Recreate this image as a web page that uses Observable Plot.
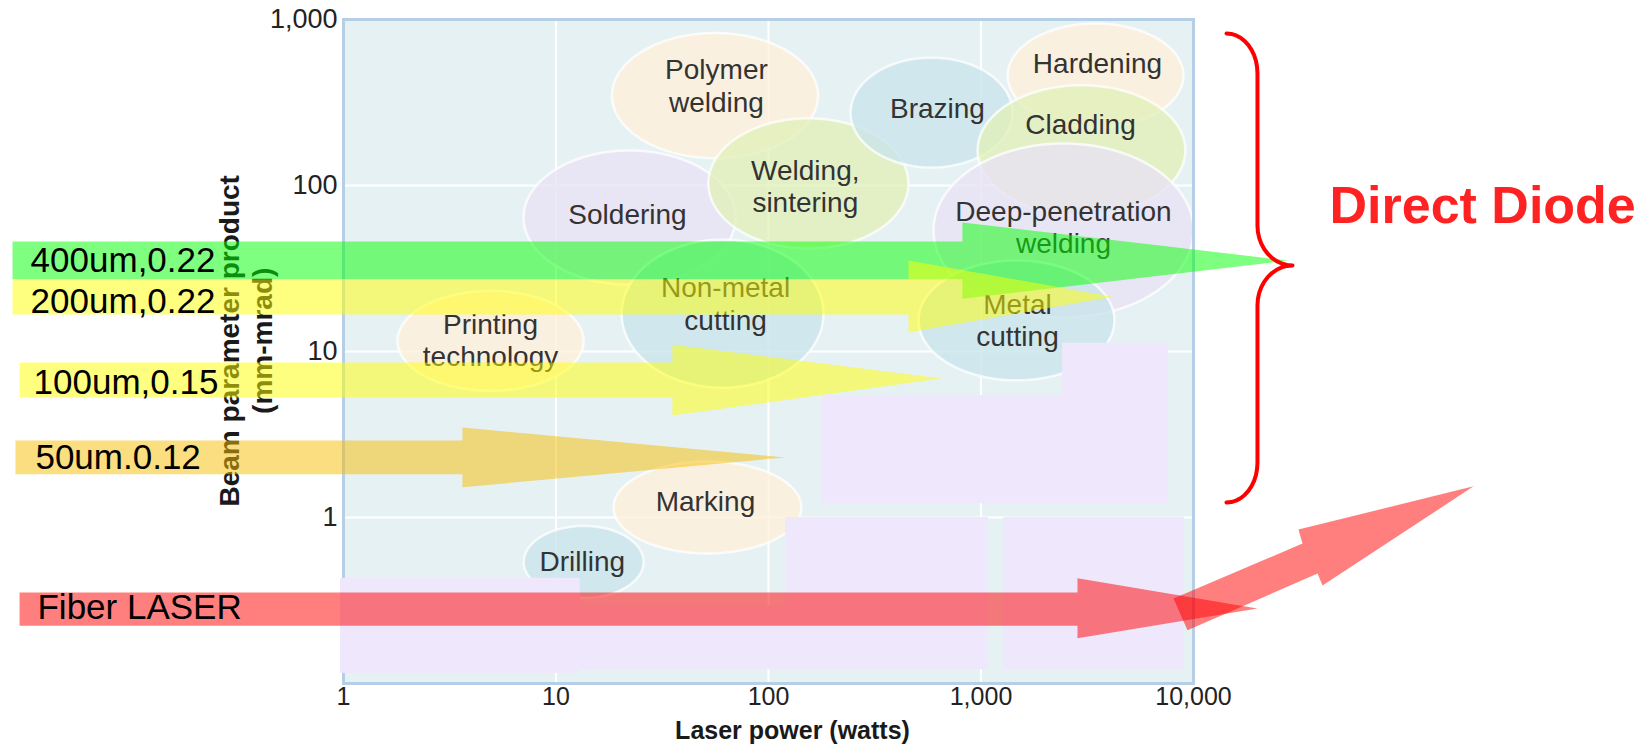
<!DOCTYPE html>
<html>
<head>
<meta charset="utf-8">
<script src="https://cdn.jsdelivr.net/npm/d3@7"></script>
<script src="https://cdn.jsdelivr.net/npm/@observablehq/plot@0.6"></script>
<style>
  html, body { margin: 0; padding: 0; background: #ffffff; }
  svg { display: block; }
</style>
</head>
<body>
<div id="chart"></div>
<script>
// ---------------- DATA ----------------
const xTicks = [1, 10, 100, 1000, 10000];          // laser power (W)
const yTicks = [1, 10, 100, 1000];                 // beam parameter product (mm-mrad)
const xGrid = [10, 100, 1000];
const yGrid = [1, 10, 100];

// application regions (ellipses in log-log space)
const applications = ["Polymer welding", "Soldering", "Welding, sintering", "Brazing", "Hardening", "Cladding",
  "Deep-penetration welding", "Non-metal cutting", "Metal cutting", "Printing technology", "Marking", "Drilling"];
const appLabel = ["Polymer\nwelding", "Soldering", "Welding,\nsintering", "Brazing", "Hardening", "Cladding",
  "Deep-penetration\nwelding", "Non-metal\ncutting", "Metal\ncutting", "Printing\ntechnology", "Marking", "Drilling"];
const appPower = [56, 22.2, 154, 585, 3460, 2970, 2445, 60.8, 1469, 4.92, 51.6, 13.5];       // centre, W
const appBpp = [348, 64.1, 103, 275, 460, 163, 53.6, 16.9, 15.4, 11.6, 1.15, 0.54];          // centre, mm-mrad
const appPowerSpan = [0.485, 0.499, 0.471, 0.381, 0.414, 0.489, 0.612, 0.475, 0.461, 0.438, 0.442, 0.282]; // half width, decades
const appBppSpan = [0.377, 0.404, 0.392, 0.331, 0.313, 0.392, 0.524, 0.446, 0.361, 0.301, 0.277, 0.217];   // half height, decades
const appFamily = ["peach", "lavender", "green", "blue", "peach", "green", "lavender", "blue", "blue", "peach", "peach", "blue"];
const appLabelPower = [56.9, 21.7, 149, 624, 3532, 2939, 2445, 62.8, 1485, 4.92, 50.5, 13.3];
const appLabelBpp = [405, 67.8, 100, 295, 551, 236, 56.6, 19.5, 15.6, 11.8, 1.26, 0.551];

// pasted cover patches
const patchPower1 = [2420, 179.5, 120.2, 1276, 0.968, 13.0];
const patchPower2 = [7625, 7625, 1084, 9073, 13.0, 120.2];
const patchBpp1 = [1.21, 1.21, 0.121, 0.121, 0.115, 0.121];
const patchBpp2 = [11.2, 5.43, 1.0, 1.0, 0.430, 0.295];

// source arrows (fiber core / NA)
const sources = ["400um,0.22", "200um,0.22", "100um,0.15", "50um.0.12", "Fiber LASER"];
const srcTailPower = [0.0277, 0.0277, 0.0299, 0.0286, 0.0299];
const srcShaftTop = [46.0, 27.2, 8.59, 2.91, 0.353];
const srcShaftBottom = [27.2, 16.7, 5.28, 1.82, 0.223];
const srcHeadPower = [818, 456, 35.3, 3.63, 2845];
const srcHeadTop = [59.8, 35.3, 11.0, 3.48, 0.430];
const srcHeadBottom = [20.8, 13.0, 4.11, 1.52, 0.187];
const srcTipPower = [27990, 4156, 652, 120, 20000];
const srcTipBpp = [35.3, 21.4, 6.87, 2.30, 0.283];
const srcLabelPower = [0.0337, 0.0337, 0.0348, 0.0355, 0.0363];
const srcLabelBpp = [35.3, 20.0, 6.50, 2.30, 0.287];

// upward fiber-laser arrow outline
const upArrowPower = [8054, 32580, 31190, 207900, 40460, 38370, 9372];
const upArrowBpp = [0.325, 0.697, 0.847, 1.54, 0.389, 0.460, 0.209];

// "Direct Diode" brace
const braceStemPower = 20000, braceEndPower = 14300, braceTipPower = 29240;
const braceTopBpp = 824, braceTipBpp = 33.0, braceBottomBpp = 1.23, braceCurl = 0.24;
const diodeLabel = ["Direct Diode"];
const diodeLabelPower = [43650];
const diodeLabelBpp = [74.6];

// axis titles
const xTitle = ["Laser power (watts)"], xTitlePower = [129.7], xTitleBpp = [0.0514];
const yTitle = ["Beam parameter product", "(mm-mrad)"], yTitlePower = [0.294, 0.416], yTitleBpp = [11.6, 11.6];

// ---------------- STYLE ----------------
const FONT = "'Liberation Sans', Arial, Helvetica, sans-serif";
const familyFill = {peach: "#fff0d8", blue: "#c8e4eb", green: "#e2efb8", lavender: "#e8e1f3"};
const sourceFill = ["#00ff00", "#ffff00", "#ffff00", "#f5bd00", "#ff0000"];

// ---------------- SHAPES built from data ----------------
const L = Math.log10;
const ellipseMarks = applications.map((name, i) => {
  const pts = d3.range(0, 360, 4).map(a => {
    const t = a * Math.PI / 180;
    return {
      power: 10 ** (L(appPower[i]) + appPowerSpan[i] * Math.cos(t)),
      bpp: 10 ** (L(appBpp[i]) + appBppSpan[i] * Math.sin(t))
    };
  });
  return Plot.line(pts, {x: "power", y: "bpp", curve: "linear-closed",
    fill: familyFill[appFamily[i]], fillOpacity: 0.78,
    stroke: "white", strokeWidth: 2.5, strokeOpacity: 0.75});
});

const appLabels = applications.map((name, i) => ({text: appLabel[i], power: appLabelPower[i], bpp: appLabelBpp[i]}));

const patches = patchPower1.map((p, i) => ({x1: p, x2: patchPower2[i], y1: patchBpp1[i], y2: patchBpp2[i]}));

const arrowMarks = sources.map((name, i) => {
  const pts = [
    [srcTailPower[i], srcShaftTop[i]],
    [srcHeadPower[i], srcShaftTop[i]],
    [srcHeadPower[i], srcHeadTop[i]],
    [srcTipPower[i], srcTipBpp[i]],
    [srcHeadPower[i], srcHeadBottom[i]],
    [srcHeadPower[i], srcShaftBottom[i]],
    [srcTailPower[i], srcShaftBottom[i]]
  ].map(([power, bpp]) => ({power, bpp}));
  return Plot.line(pts, {x: "power", y: "bpp", curve: "linear-closed",
    fill: sourceFill[i], fillOpacity: 0.5, stroke: "none"});
});

const upArrow = upArrowPower.map((p, i) => ({power: p, bpp: upArrowBpp[i]}));

const srcLabels = sources.map((s, i) => ({text: s, power: srcLabelPower[i], bpp: srcLabelBpp[i]}));

// brace path (quarter arcs in log space)
function arc(cx, cy, rx, ry, a0, a1) {
  return d3.range(0, 11).map(k => {
    const a = a0 + (a1 - a0) * k / 10;
    return {power: 10 ** (cx + rx * Math.cos(a)), bpp: 10 ** (cy + ry * Math.sin(a))};
  });
}
const sx = L(braceStemPower), ex = L(braceEndPower), tx = L(braceTipPower);
const yTop = L(braceTopBpp), yTip = L(braceTipBpp), yBot = L(braceBottomBpp);
const brace = [
  ...arc(ex, yTop - braceCurl, sx - ex, braceCurl, Math.PI / 2, 0),
  ...arc(tx, yTip + braceCurl, tx - sx, braceCurl, Math.PI, 1.5 * Math.PI),
  ...arc(tx, yTip - braceCurl, tx - sx, braceCurl, Math.PI / 2, Math.PI),
  ...arc(ex, yBot + braceCurl, sx - ex, braceCurl, 0, -Math.PI / 2)
];

// ---------------- PLOT ----------------
const chart = Plot.plot({
  width: 1646,
  height: 744,
  marginLeft: 343,
  marginRight: 453,
  marginTop: 19,
  marginBottom: 61,
  style: {fontFamily: FONT, background: "#ffffff", color: "#222"},
  x: {type: "log", domain: [1, 10000]},
  y: {type: "log", domain: [0.1, 1000]},
  marks: [
    Plot.frame({fill: "#e6f1f4", stroke: "none"}),
    Plot.ruleX(xGrid, {stroke: "white", strokeWidth: 2}),
    Plot.ruleY(yGrid, {stroke: "white", strokeWidth: 2}),
    ...ellipseMarks,
    Plot.text(appLabels, {x: "path" === "" ? null : "power", y: "bpp", text: "text", fontSize: 28, lineHeight: 1.17,
      fill: "#333", fontFamily: FONT}),
    Plot.frame({stroke: "#b6cfe6", strokeWidth: 3}),
    Plot.rect(patches, {x1: "x1", x2: "x2", y1: "y1", y2: "y2", fill: "#efe7fb"}),
    Plot.axisX({ticks: xTicks, tickFormat: d3.format(","), tickSize: 0, tickPadding: 4,
      fontSize: 25, label: null, fontFamily: FONT}),
    Plot.axisY({ticks: yTicks, tickFormat: d3.format(","), tickSize: 0, tickPadding: 6,
      fontSize: 27, label: null, fontFamily: FONT}),
    Plot.text(xTitle, {x: xTitlePower, y: xTitleBpp, text: d => d, fontSize: 25, fontWeight: "bold",
      fill: "#1a1a1a", fontFamily: FONT}),
    Plot.text(yTitle, {x: yTitlePower, y: yTitleBpp, text: d => d, rotate: -90, fontSize: 28,
      fontWeight: "bold", fill: "#1a1a1a", fontFamily: FONT}),
    ...arrowMarks,
    Plot.line(upArrow, {x: "power", y: "bpp", curve: "linear-closed", fill: "#ff0000",
      fillOpacity: 0.5, stroke: "none"}),
    Plot.text(srcLabels, {x: "power", y: "bpp", text: "text", textAnchor: "start", fontSize: 35,
      fill: "#000", fontFamily: FONT}),
    Plot.line(brace, {x: "power", y: "bpp", stroke: "#ff0000", strokeWidth: 4, fill: "none",
      curve: "linear"}),
    Plot.text(diodeLabel, {x: diodeLabelPower, y: diodeLabelBpp, text: d => d, textAnchor: "start",
      fontSize: 52, fontWeight: "bold", fill: "#ff2222", fontFamily: FONT})
  ]
});
document.getElementById("chart").appendChild(chart);
</script>
</body>
</html>
